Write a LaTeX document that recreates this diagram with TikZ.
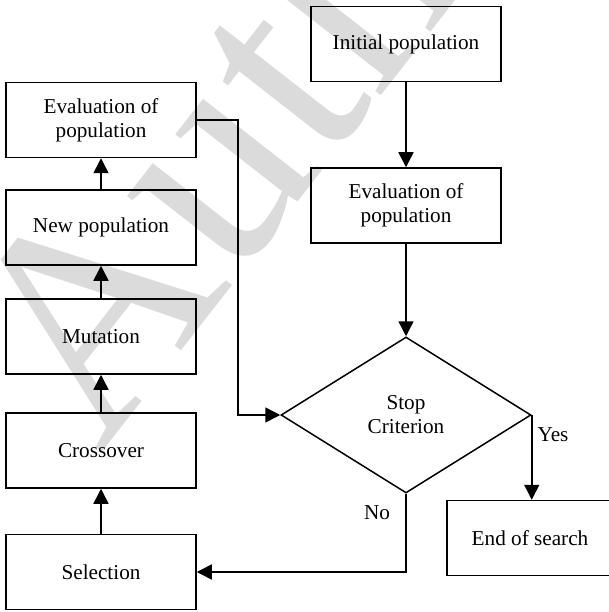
\documentclass[tikz,border=0pt]{standalone}
\usepackage{fontspec}
\setmainfont{Liberation Serif}
\usetikzlibrary{arrows.meta,shapes.geometric}
\begin{document}
\begin{tikzpicture}[x=1pt,y=-1pt,
  every node/.style={font=\fontsize{21.2}{24}\selectfont},
  stepbox/.style={draw, line width=1.5pt, minimum width=190pt, minimum height=75pt, inner sep=0pt, align=center},
  decision/.style={draw, diamond, line width=1.5pt, minimum width=250pt, minimum height=156pt, inner sep=0pt, align=center},
  arr/.style={line width=1.5pt, -{Triangle[length=15pt,width=15pt]}},
  lbl/.style={inner sep=0pt},
  wm/.style={text=black!14, inner sep=0pt}]
\useasboundingbox (0,0) rectangle (608,612);
\fill[white] (0,0) rectangle (608,612);
% watermark
\node[wm, rotate=52, anchor=base west, font=\fontsize{300}{300}\selectfont] (wmark) at (100,455) {Author};
% boxes
\node[stepbox] (eval1) at (101,120) {Evaluation of\\population};
\node[stepbox] (newpop) at (101,227.5) {New population};
\node[stepbox] (mut) at (101,336.5) {Mutation};
\node[stepbox] (cross) at (101,450.5) {Crossover};
\node[stepbox] (sel) at (101,572) {Selection};
\node[stepbox] (init) at (406,44) {Initial population};
\node[stepbox] (eval2) at (406,205.5) {Evaluation of\\population};
\node[decision] (dia) at (406,415) {Stop\\Criterion};
\node[stepbox, minimum width=166pt] (endsr) at (530,538) {End of search};
\coordinate (j1) at (238,415);
% connectors
\draw[arr] (init.south) -- (eval2.north);
\draw[arr] (eval2.south) -- (dia.north);
\draw[arr] (sel.north) -- (cross.south);
\draw[arr] (cross.north) -- (mut.south);
\draw[arr] (mut.north) -- (newpop.south);
\draw[arr] (newpop.north) -- (eval1.south);
\draw[arr] (eval1.east) -| (j1) -- (dia.west);
\draw[arr] (dia.east) -- (dia.east |- endsr.north);
\draw[arr] (dia.south) |- (sel.east);
\node[lbl] (yes) at (553,435) {Yes};
\node[lbl] (no) at (377,513) {No};
\end{tikzpicture}
\end{document}
